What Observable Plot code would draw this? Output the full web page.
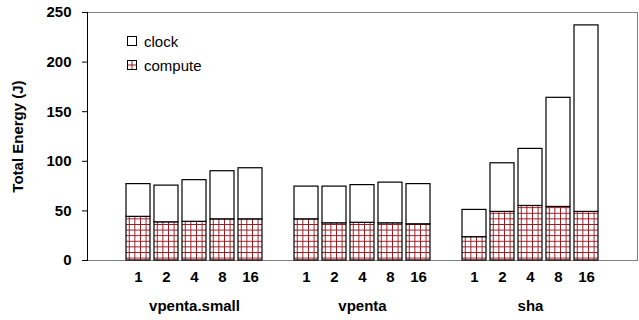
<!DOCTYPE html>
<html>
<head>
<meta charset="utf-8">
<script src="https://cdn.jsdelivr.net/npm/d3@7"></script>
<script src="https://cdn.jsdelivr.net/npm/@observablehq/plot@0.6"></script>
<style>
  html, body { margin: 0; padding: 0; background: #fff; }
  #wrap { position: relative; width: 639px; height: 320px; font-family: Arial, "Liberation Sans", sans-serif; }
  .legend { position: absolute; left: 127px; top: 29px; font-size: 15px; color: #000; }
  .legend .row { display: flex; align-items: center; height: 24px; }
  .legend svg { margin-right: 6px; display: block; }
</style>
</head>
<body>
<div id="wrap"></div>
<script>
// Benchmarks and thread counts along the x axis
const groups = ["vpenta.small", "vpenta", "sha"];
const threads = ["1", "2", "4", "8", "16"];

// Total energy (J) per bar: compute part plus clock part
const totalVpentaSmall = [77, 75.5, 81, 90, 93];
const computeVpentaSmall = [44, 38.5, 39, 41.5, 41.5];
const totalVpenta = [74.5, 74.5, 76, 78.5, 77];
const computeVpenta = [41.5, 37.5, 38, 37.5, 36.5];
const totalSha = [51, 98, 112.5, 164, 237];
const computeSha = [23.5, 49, 55, 54, 49];

const yTicks = [0, 50, 100, 150, 200, 250];

const totals = [totalVpentaSmall, totalVpenta, totalSha];
const computes = [computeVpentaSmall, computeVpenta, computeSha];

// One band per bar, with an empty band before, between and after the groups
const domain = ["_0"];
groups.forEach((g, i) => {
  threads.forEach(t => domain.push(g + "|" + t));
  domain.push("_" + (i + 1));
});

const rows = [];
groups.forEach((g, gi) => {
  threads.forEach((t, ti) => {
    rows.push({key: g + "|" + t, group: g, threads: t, total: totals[gi][ti], compute: computes[gi][ti]});
  });
});
const groupLabels = groups.map(g => ({key: g + "|4", group: g}));

const font = 'Arial, "Liberation Sans", sans-serif';

const chart = Plot.plot({
  width: 639,
  height: 320,
  marginLeft: 87,
  marginRight: 2,
  marginTop: 12,
  marginBottom: 60,
  style: {fontFamily: font, background: "white", color: "black"},
  x: {type: "band", domain, paddingInner: 0.136, paddingOuter: 0.068, axis: null},
  y: {domain: [0, 250], axis: null},
  marks: [
    Plot.frame({stroke: "#808080"}),
    Plot.barY(rows, {x: "key", y1: 0, y2: "compute", fill: "url(#grid)", stroke: "black", strokeWidth: 1.2}),
    Plot.barY(rows, {x: "key", y1: "compute", y2: "total", fill: "white", stroke: "black", strokeWidth: 1.2}),
    Plot.axisY({ticks: yTicks, tickSize: 5, tickPadding: 11, fontSize: 15, fontWeight: "bold", label: null}),
    Plot.axisX({tickSize: 0, tickPadding: 11, fontSize: 15, fontWeight: "bold", label: null,
      tickFormat: k => k.startsWith("_") ? "" : k.split("|")[1]}),
    Plot.text(groupLabels, {x: "key", text: "group", frameAnchor: "bottom", dy: 50, fontSize: 15, fontWeight: "bold"}),
    Plot.text(["Total Energy (J)"], {frameAnchor: "left", textAnchor: "middle", dx: -69, rotate: -90, fontSize: 15, fontWeight: "bold"}),
    Plot.frame({anchor: "left", stroke: "black"})
  ]
});

// Grid hatch used to fill the compute part of each bar
const ns = "http://www.w3.org/2000/svg";
const defs = document.createElementNS(ns, "defs");
defs.innerHTML = `<pattern id="grid" patternUnits="userSpaceOnUse" width="5.6" height="5.6">
  <rect width="5.6" height="5.6" fill="white"/>
  <path d="M0 0.5H5.6M0.5 0V5.6" stroke="#9a141c" stroke-width="1.1" fill="none" shape-rendering="crispEdges"/>
</pattern>`;
chart.insertBefore(defs, chart.firstChild);

const wrap = document.getElementById("wrap");
wrap.appendChild(chart);

// Legend inside the plot area
const legend = document.createElement("div");
legend.className = "legend";
legend.innerHTML = `
  <div class="row"><svg width="11" height="11"><rect x="0.5" y="0.5" width="9" height="9" fill="white" stroke="black"/></svg>clock</div>
  <div class="row"><svg width="11" height="11"><rect x="0.5" y="0.5" width="9" height="9" fill="white" stroke="black"/><path d="M5 1V10M1 5H10" stroke="#9a141c"/><rect x="0.5" y="0.5" width="9" height="9" fill="none" stroke="black"/></svg>compute</div>`;
wrap.appendChild(legend);
</script>
</body>
</html>
